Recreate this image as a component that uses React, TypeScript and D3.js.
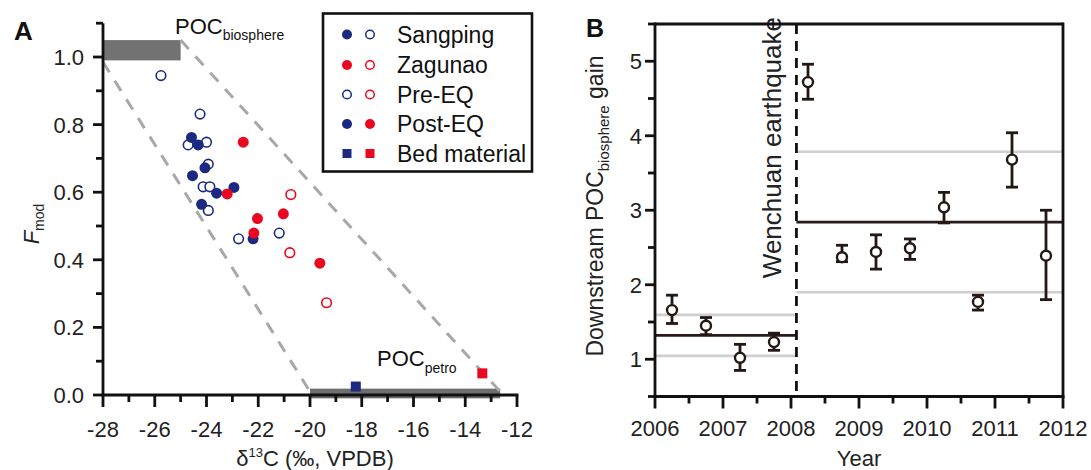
import React from 'react';
import * as d3 from 'd3';

const FONT = '"Liberation Sans", Arial, Helvetica, sans-serif';
const BLUE = '#1b2a80';
const RED = '#e8081f';
const INK = '#231815';

// ---------- Panel A data: [d13C, Fmod] ----------
const sangpingPre: [number, number][] = [
  [-25.76, 0.945], [-24.25, 0.831], [-24.71, 0.74], [-24.0, 0.748], [-23.93, 0.683],
  [-24.13, 0.616], [-23.87, 0.616], [-23.93, 0.546], [-22.76, 0.462], [-21.19, 0.479],
];
const sangpingPost: [number, number][] = [
  [-24.58, 0.762], [-24.32, 0.74], [-24.06, 0.672], [-24.54, 0.649], [-22.94, 0.614],
  [-23.61, 0.597], [-24.19, 0.564], [-22.2, 0.462],
];
const zagunaoPre: [number, number][] = [[-20.74, 0.593], [-20.78, 0.421], [-19.36, 0.273]];
const zagunaoPost: [number, number][] = [
  [-22.58, 0.748], [-23.2, 0.595], [-22.03, 0.522], [-21.03, 0.536], [-22.17, 0.479], [-19.62, 0.39],
];
const bedSangping: [number, number] = [-18.23, 0.025];
const bedZagunao: [number, number] = [-13.34, 0.064];

// end-member boxes & mixing envelope
const bioBoxX = [-28, -25];
const bioBoxY = [0.99, 1.05];
const petroBoxX = [-20, -12.65];
const petroBoxY = [-0.01, 0.01];
const envelopeUpper: [number, number][] = [[-25, 1.05], [-12.65, 0.01]];
const envelopeLower: [number, number][] = [[-28, 0.985], [-20, 0.01]];

const xTicksA = [-28, -26, -24, -22, -20, -18, -16, -14, -12];
const xMinorA = [-27, -25, -23, -21, -19, -17, -15, -13];
const yTicksA = [0, 0.2, 0.4, 0.6, 0.8, 1.0];
const yMinorA = [0.1, 0.3, 0.5, 0.7, 0.9, 1.1];

// ---------- Panel B data ----------
const years = [2006.25, 2006.75, 2007.25, 2007.75, 2008.25, 2008.75, 2009.25, 2009.75, 2010.25, 2010.75, 2011.25, 2011.75];
const gain = [1.66, 1.45, 1.02, 1.23, 4.72, 2.37, 2.44, 2.49, 3.04, 1.77, 3.68, 2.39];
const gainHigh = [1.86, 1.56, 1.2, 1.35, 4.96, 2.53, 2.67, 2.615, 3.24, 1.86, 4.04, 3.0];
const gainLow = [1.48, 1.33, 0.85, 1.12, 4.49, 2.31, 2.21, 2.34, 2.83, 1.66, 3.31, 1.8];
const quakeYear = 2008.08;
const preMean = 1.32;
const preBand = [1.045, 1.595];
const postMean = 2.84;
const postBand = [1.9, 3.785];
const xTicksB = [2006, 2007, 2008, 2009, 2010, 2011, 2012];
const xMinorB = [2006.5, 2007.5, 2008.5, 2009.5, 2010.5, 2011.5];
const yTicksB = [1, 2, 3, 4, 5];
const yMinorB = [0.5, 1.5, 2.5, 3.5, 4.5, 5.5];

export default function App() {
  const xA = d3.scaleLinear().domain([-28, -12]).range([103, 517]);
  const yA = d3.scaleLinear().domain([0, 1]).range([395, 57]);
  const xB = d3.scaleLinear().domain([2006, 2012]).range([655, 1063]);
  const yB = d3.scaleLinear().domain([0.5, 5.5]).range([396.5, 24]);
  const line = d3.line<[number, number]>().x(d => xA(d[0])).y(d => yA(d[1]));

  const circ = (pts: [number, number][], color: string, filled: boolean, key: string) =>
    pts.map((p, i) => (
      <circle key={key + i} cx={xA(p[0])} cy={yA(p[1])} r={filled ? 5.5 : 4.8}
        fill={filled ? color : 'white'} stroke={color} strokeWidth={filled ? 0 : 1.6} />
    ));

  const legendRows = [
    { label: 'Sangping', a: { c: BLUE, f: true, s: 'c' }, b: { c: BLUE, f: false, s: 'c' } },
    { label: 'Zagunao', a: { c: RED, f: true, s: 'c' }, b: { c: RED, f: false, s: 'c' } },
    { label: 'Pre-EQ', a: { c: BLUE, f: false, s: 'c' }, b: { c: RED, f: false, s: 'c' } },
    { label: 'Post-EQ', a: { c: BLUE, f: true, s: 'c' }, b: { c: RED, f: true, s: 'c' } },
    { label: 'Bed material', a: { c: BLUE, f: true, s: 's' }, b: { c: RED, f: true, s: 's' } },
  ];
  const legendY = [34.5, 65, 94.5, 124, 153.5];
  const legMark = (m: { c: string; f: boolean; s: string }, x: number, y: number, k: string) =>
    m.s === 's' ? (
      <rect key={k} x={x - 4.5} y={y - 4.5} width={9} height={9} fill={m.c} />
    ) : (
      <circle key={k} cx={x} cy={y} r={m.f ? 5 : 4.3} fill={m.f ? m.c : 'white'} stroke={m.c} strokeWidth={m.f ? 0 : 1.5} />
    );

  const axisW = 2.8;
  const tickFs = 22;

  return (
    <svg width={1091} height={470} style={{ position: 'absolute', left: 0, top: 0, background: 'white' }}
      fontFamily={FONT}>
      {/* ================= Panel A ================= */}
      <text x={14} y={40} fontSize={26} fontWeight="bold" fill="#111">A</text>

      {/* end member boxes */}
      <rect x={xA(bioBoxX[0])} y={yA(bioBoxY[1])} width={xA(bioBoxX[1]) - xA(bioBoxX[0])}
        height={yA(bioBoxY[0]) - yA(bioBoxY[1])} fill="#727272" />
      <rect x={xA(petroBoxX[0])} y={yA(petroBoxY[1]) - 3} width={xA(petroBoxX[1]) - xA(petroBoxX[0])}
        height={yA(petroBoxY[0]) - yA(petroBoxY[1]) + 3} fill="#6f6f6f" />

      {/* envelope */}
      <path d={line(envelopeUpper) || ''} fill="none" stroke="#a8a8a8" strokeWidth={3} strokeDasharray="12 10" />
      <path d={line(envelopeLower) || ''} fill="none" stroke="#a8a8a8" strokeWidth={3} strokeDasharray="12 10" />

      {/* axes A */}
      <line x1={xA(-28)} x2={xA(-28)} y1={yA(0) + 1.4} y2={yA(1.1)} stroke="#111" strokeWidth={axisW} />
      <line x1={xA(-28) - 1.4} x2={xA(-12) + 1.4} y1={yA(0)} y2={yA(0)} stroke="#111" strokeWidth={axisW} />
      {yTicksA.map(t => (
        <g key={'ya' + t}>
          <line x1={xA(-28) - 10} x2={xA(-28)} y1={yA(t)} y2={yA(t)} stroke="#111" strokeWidth={axisW} />
          <text x={84} y={yA(t)} dy="0.36em" textAnchor="end" fontSize={tickFs} fill="#222">{t.toFixed(1)}</text>
        </g>
      ))}
      {yMinorA.map(t => (
        <line key={'yam' + t} x1={xA(-28) - 7} x2={xA(-28)} y1={yA(t)} y2={yA(t)} stroke="#111" strokeWidth={axisW} />
      ))}
      {xTicksA.map(t => (
        <g key={'xa' + t}>
          <line x1={xA(t)} x2={xA(t)} y1={yA(0)} y2={yA(0) + 12} stroke="#111" strokeWidth={axisW} />
          <text x={xA(t)} y={437} textAnchor="middle" fontSize={tickFs} fill="#222">{t}</text>
        </g>
      ))}
      {xMinorA.map(t => (
        <line key={'xam' + t} x1={xA(t)} x2={xA(t)} y1={yA(0)} y2={yA(0) + 7} stroke="#111" strokeWidth={axisW} />
      ))}

      {/* axis titles A */}
      <text x={(xA(-28) + xA(-12)) / 2 + 5} y={466} textAnchor="middle" fontSize={22} fill="#222">
        δ<tspan fontSize={13} dy={-9}>13</tspan><tspan dy={9}>C (‰, VPDB)</tspan>
      </text>
      <text transform="translate(39,224) rotate(-90)" textAnchor="middle" fontSize={22} fill="#222">
        <tspan fontStyle="italic">F</tspan><tspan fontSize={14} dy={5}>mod</tspan>
      </text>

      {/* end member labels */}
      <text x={175} y={34} fontSize={22} fill="#111">POC<tspan fontSize={14} dy={6}>biosphere</tspan></text>
      <text x={377} y={366} fontSize={22} fill="#111">POC<tspan fontSize={14} dy={7}>petro</tspan></text>

      {/* points */}
      {circ(sangpingPre, BLUE, false, 'sp')}
      {circ(zagunaoPre, RED, false, 'zp')}
      {circ(sangpingPost, BLUE, true, 'sq')}
      {circ(zagunaoPost, RED, true, 'zq')}
      <rect x={xA(bedSangping[0]) - 5} y={yA(bedSangping[1]) - 5} width={10} height={10} fill={BLUE} />
      <rect x={xA(bedZagunao[0]) - 5} y={yA(bedZagunao[1]) - 5} width={10} height={10} fill={RED} />

      {/* legend */}
      <rect x={323} y={13.5} width={209} height={158} fill="white" stroke="#111" strokeWidth={2.6} />
      {legendRows.map((row, i) => (
        <g key={'leg' + i}>
          {legMark(row.a, 347, legendY[i], 'la' + i)}
          {legMark(row.b, 370, legendY[i], 'lb' + i)}
          <text x={397} y={legendY[i]} dy="0.36em" fontSize={23} fill="#111">{row.label}</text>
        </g>
      ))}

      {/* ================= Panel B ================= */}
      <text x={586} y={37} fontSize={25} fontWeight="bold" fill="#111">B</text>

      {/* bands and means */}
      {[preBand[0], preBand[1]].map((v, i) => (
        <line key={'pb' + i} x1={xB(2006)} x2={xB(quakeYear)} y1={yB(v)} y2={yB(v)} stroke="#cfcfcf" strokeWidth={2.6} />
      ))}
      {[postBand[0], postBand[1]].map((v, i) => (
        <line key={'qb' + i} x1={xB(quakeYear)} x2={xB(2012)} y1={yB(v)} y2={yB(v)} stroke="#cfcfcf" strokeWidth={2.6} />
      ))}
      <line x1={xB(2006)} x2={xB(quakeYear)} y1={yB(preMean)} y2={yB(preMean)} stroke="#2a1a1a" strokeWidth={2.6} />
      <line x1={xB(quakeYear)} x2={xB(2012)} y1={yB(postMean)} y2={yB(postMean)} stroke="#2a1a1a" strokeWidth={2.6} />

      {/* earthquake line */}
      <line x1={xB(quakeYear)} x2={xB(quakeYear)} y1={yB(5.5)} y2={yB(0.5)} stroke="#111" strokeWidth={2.8} strokeDasharray="10 7" />
      <text transform={`translate(${xB(quakeYear) - 15},17) rotate(-90)`} textAnchor="end" fontSize={26} fill="#222">
        Wenchuan earthquake
      </text>

      {/* frame B */}
      <line x1={xB(2006)} x2={xB(2006)} y1={yB(0.5) + 1.4} y2={yB(5.5) - 1.4} stroke="#111" strokeWidth={axisW} />
      <line x1={xB(2012)} x2={xB(2012)} y1={yB(0.5) + 1.4} y2={yB(5.5) - 1.4} stroke="#111" strokeWidth={axisW} />
      <line x1={xB(2006)} x2={xB(2012)} y1={yB(5.5)} y2={yB(5.5)} stroke="#111" strokeWidth={axisW} />
      <line x1={xB(2006) - 1.4} x2={xB(2012) + 1.4} y1={yB(0.5)} y2={yB(0.5)} stroke="#111" strokeWidth={axisW} />
      {yTicksB.map(t => (
        <g key={'yb' + t}>
          <line x1={xB(2006) - 10} x2={xB(2006)} y1={yB(t)} y2={yB(t)} stroke="#111" strokeWidth={axisW} />
          <text x={642} y={yB(t)} dy="0.36em" textAnchor="end" fontSize={tickFs} fill="#222">{t}</text>
        </g>
      ))}
      {yMinorB.map(t => (
        <line key={'ybm' + t} x1={xB(2006) - 7} x2={xB(2006)} y1={yB(t)} y2={yB(t)} stroke="#111" strokeWidth={axisW} />
      ))}
      {xTicksB.map(t => (
        <g key={'xb' + t}>
          <line x1={xB(t)} x2={xB(t)} y1={yB(0.5)} y2={yB(0.5) + 12} stroke="#111" strokeWidth={axisW} />
          <text x={xB(t)} y={436} textAnchor="middle" fontSize={tickFs} fill="#222">{t}</text>
        </g>
      ))}
      {xMinorB.map(t => (
        <line key={'xbm' + t} x1={xB(t)} x2={xB(t)} y1={yB(0.5)} y2={yB(0.5) + 7} stroke="#111" strokeWidth={axisW} />
      ))}

      {/* axis titles B */}
      <text x={(xB(2006) + xB(2012)) / 2} y={466} textAnchor="middle" fontSize={22} fill="#222">Year</text>
      <text transform="translate(603,206) rotate(-90)" textAnchor="middle" fontSize={23} fill="#222">
        Downstream POC<tspan fontSize={15} dy={6}>biosphere</tspan><tspan dy={-6}> gain</tspan>
      </text>

      {/* error bars + points */}
      {years.map((yr, i) => (
        <g key={'pt' + i} stroke={INK} strokeWidth={2.8}>
          <line x1={xB(yr)} x2={xB(yr)} y1={yB(gainLow[i])} y2={yB(gainHigh[i])} />
          <line x1={xB(yr) - 6} x2={xB(yr) + 6} y1={yB(gainLow[i])} y2={yB(gainLow[i])} />
          <line x1={xB(yr) - 6} x2={xB(yr) + 6} y1={yB(gainHigh[i])} y2={yB(gainHigh[i])} />
          <circle cx={xB(yr)} cy={yB(gain[i])} r={5} fill="white" strokeWidth={2.4} />
        </g>
      ))}
    </svg>
  );
}
